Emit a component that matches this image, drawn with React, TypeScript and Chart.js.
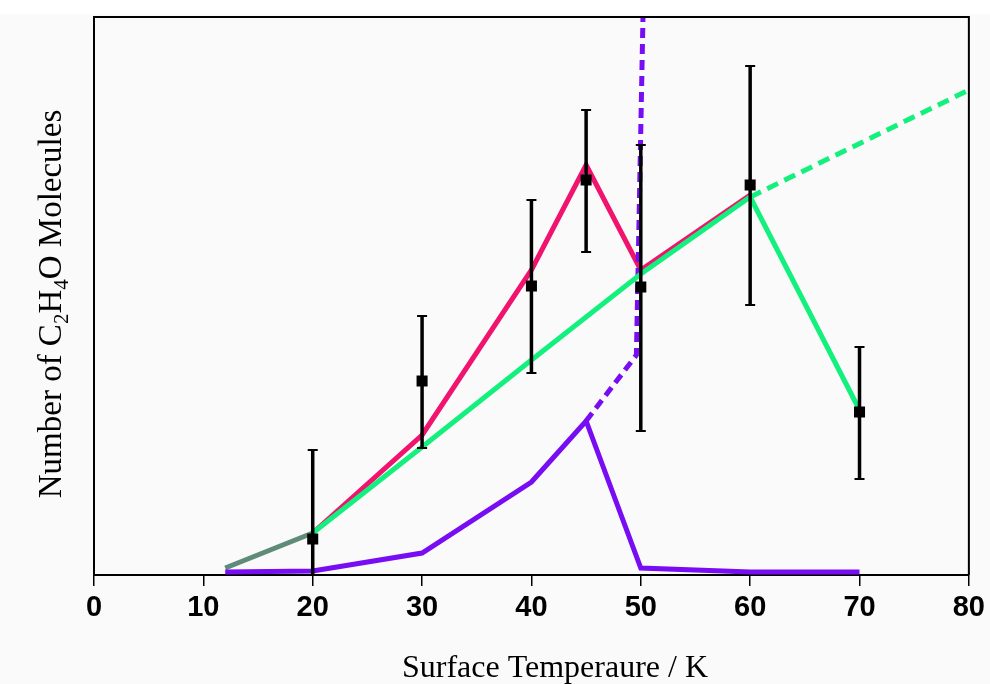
import React, { useEffect, useRef } from "react";
import { Chart, registerables } from "chart.js";
Chart.register(...registerables);

const xMin = 0;
const xMax = 80;
const xStep = 10;
const yMin = 0;
const yMax = 558;

const measuredX = [20, 30, 40, 45, 50, 60, 70];
const measuredY = [36, 194, 289, 395, 288, 390, 163];
const errorHigh = [125, 259, 375, 465, 430, 509, 228];
const errorLow = [0, 127, 202, 323, 144, 270, 96];

const pinkX = [20, 30, 40, 45, 50, 60];
const pinkY = [42, 140, 305, 410, 305, 380];
const greenX = [20, 30, 40, 50, 60, 70];
const greenY = [42, 128, 215, 301, 378, 165];
const greenDashX = [60, 80];
const greenDashY = [378, 485];
const greyX = [12, 20];
const greyY = [7, 42];
const purpleX = [12, 20, 30, 40, 45, 50, 60, 70];
const purpleY = [3, 4, 22, 93, 154, 7, 3, 3];
const purpleDashX = [45, 49.6, 50.2];
const purpleDashY = [154, 220, 558];

const xTitle = "Surface Temperaure / K";
const yTitleParts: [string, boolean][] = [
  ["Number of C", false],
  ["2", true],
  ["H", false],
  ["4", true],
  ["O Molecules", false],
];

const zip = (xs: number[], ys: number[]) => xs.map((x, i) => ({ x, y: ys[i] }));

const PINK = "#f0146e";
const GREEN = "#14f07e";
const PURPLE = "#780cf2";
const GREY = "#5f8c78";

export default function App() {
  const ref = useRef<HTMLCanvasElement | null>(null);
  useEffect(() => {
    document.body.style.margin = "0";
    const canvas = ref.current!;
    const MEASURED = 0;

    const bgPlugin = {
      id: "bgFill",
      beforeDraw(chart: any) {
        const ctx = chart.ctx;
        ctx.save();
        ctx.fillStyle = "#fafafa";
        ctx.fillRect(0, 14, chart.width, chart.height - 14);
        ctx.restore();
      },
    };

    const errorPlugin = {
      id: "errorBars",
      beforeDatasetDraw(chart: any, args: any) {
        if (args.index !== MEASURED) return;
        const ctx = chart.ctx;
        const xs = chart.scales.x;
        const ys = chart.scales.y;
        ctx.save();
        ctx.strokeStyle = "#000";
        measuredX.forEach((xv, i) => {
          const px = xs.getPixelForValue(xv);
          const top = ys.getPixelForValue(errorHigh[i]);
          const bot = ys.getPixelForValue(errorLow[i]);
          ctx.lineWidth = 3.5;
          ctx.beginPath();
          ctx.moveTo(px, top);
          ctx.lineTo(px, bot);
          ctx.stroke();
          ctx.lineWidth = 2;
          ctx.beginPath();
          ctx.moveTo(px - 5, top);
          ctx.lineTo(px + 5, top);
          ctx.moveTo(px - 5, bot);
          ctx.lineTo(px + 5, bot);
          ctx.stroke();
        });
        ctx.restore();
      },
    };

    const framePlugin = {
      id: "frameTitles",
      afterDraw(chart: any) {
        const ctx = chart.ctx;
        const a = chart.chartArea;
        ctx.save();
        ctx.strokeStyle = "#000";
        ctx.lineWidth = 2;
        ctx.beginPath();
        ctx.moveTo(a.left, a.top);
        ctx.lineTo(a.right, a.top);
        ctx.lineTo(a.right, a.bottom);
        ctx.stroke();

        ctx.fillStyle = "#000";
        ctx.font = '32px "Liberation Serif", "Times New Roman", serif';
        ctx.textAlign = "center";
        ctx.textBaseline = "alphabetic";
        ctx.fillText(xTitle, 555, 677);

        const big = '33px "Liberation Serif", "Times New Roman", serif';
        const small = '21px "Liberation Serif", "Times New Roman", serif';
        let total = 0;
        const widths = yTitleParts.map(([t, sub]) => {
          ctx.font = sub ? small : big;
          const w = ctx.measureText(t).width;
          total += w;
          return w;
        });
        ctx.translate(61, 304);
        ctx.rotate(-Math.PI / 2);
        ctx.textAlign = "left";
        let cx = -total / 2;
        yTitleParts.forEach(([t, sub], i) => {
          ctx.font = sub ? small : big;
          ctx.fillText(t, cx, sub ? 7 : 0);
          cx += widths[i];
        });
        ctx.restore();
      },
    };

    const chart = new Chart(canvas, {
      type: "scatter",
      data: {
        datasets: [
          {
            label: "measured",
            data: zip(measuredX, measuredY),
            showLine: false,
            pointStyle: "rect",
            pointRadius: 7.8,
            pointHoverRadius: 7.8,
            backgroundColor: "#000",
            borderColor: "#000",
            borderWidth: 0,
            order: 0,
          },
          {
            label: "green",
            data: zip(greenX, greenY),
            showLine: true,
            borderColor: GREEN,
            borderWidth: 5,
            pointRadius: 0,
            order: 1,
          },
          {
            label: "greenDash",
            data: zip(greenDashX, greenDashY),
            showLine: true,
            borderColor: GREEN,
            borderWidth: 5,
            borderDash: [12, 7],
            pointRadius: 0,
            order: 2,
          },
          {
            label: "purpleDash",
            data: zip(purpleDashX, purpleDashY),
            showLine: true,
            borderColor: PURPLE,
            borderWidth: 5,
            borderDash: [10, 6],
            pointRadius: 0,
            order: 3,
          },
          {
            label: "purple",
            data: zip(purpleX, purpleY),
            showLine: true,
            borderColor: PURPLE,
            borderWidth: 5,
            pointRadius: 0,
            order: 4,
          },
          {
            label: "pink",
            data: zip(pinkX, pinkY),
            showLine: true,
            borderColor: PINK,
            borderWidth: 5,
            pointRadius: 0,
            order: 5,
          },
          {
            label: "grey",
            data: zip(greyX, greyY),
            showLine: true,
            borderColor: GREY,
            borderWidth: 5,
            pointRadius: 0,
            order: 6,
          },
        ],
      },
      options: {
        animation: false,
        responsive: false,
        maintainAspectRatio: false,
        events: [],
        layout: { padding: { top: 17, right: 20, left: 0, bottom: 0 } },
        plugins: {
          legend: { display: false },
          tooltip: { enabled: false },
          title: { display: false },
        },
        scales: {
          x: {
            type: "linear",
            min: xMin,
            max: xMax,
            afterFit: (s: any) => {
              s.height = 109;
            },
            ticks: {
              stepSize: xStep,
              color: "#000",
              padding: 5,
              font: { family: '"Liberation Sans", Arial, sans-serif', size: 29, weight: "bold" },
            },
            grid: {
              display: true,
              drawOnChartArea: false,
              drawTicks: true,
              tickLength: 11,
              color: "#000",
              lineWidth: 1.5,
            },
            border: { display: true, color: "#000", width: 2 },
          },
          y: {
            type: "linear",
            min: yMin,
            max: yMax,
            afterFit: (s: any) => {
              s.width = 94;
            },
            ticks: { display: false },
            grid: { display: false },
            border: { display: true, color: "#000", width: 2 },
          },
        },
      },
      plugins: [bgPlugin, errorPlugin, framePlugin],
    } as any);
    return () => chart.destroy();
  }, []);
  return (
    <div style={{ width: 990, height: 684, background: "#fff" }}>
      <canvas ref={ref} width={990} height={684} style={{ display: "block", width: 990, height: 684 }} />
    </div>
  );
}
